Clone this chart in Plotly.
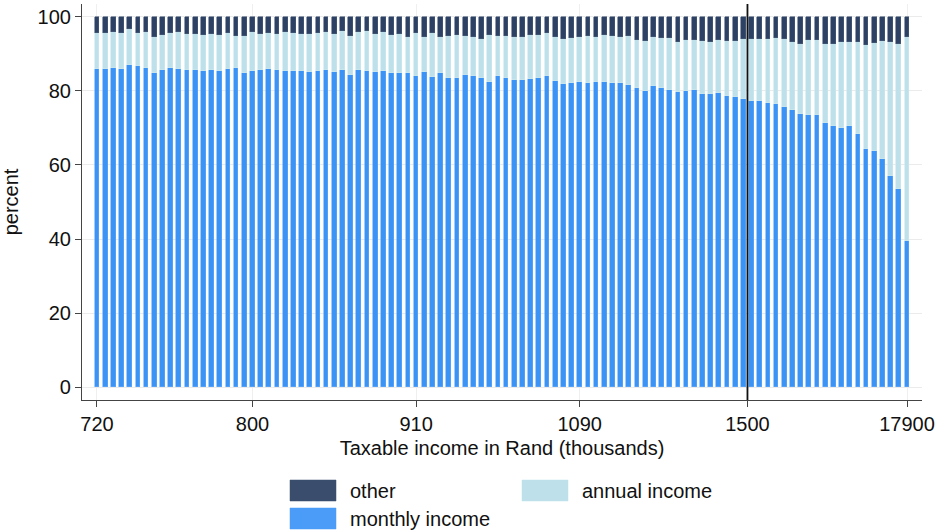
import plotly.graph_objects as go

positions = list(range(1, 101))

monthly = [
    86.0, 86.0, 86.2, 86.0, 87.0, 86.8, 86.1, 84.9, 85.6, 86.1,
    85.9, 85.6, 85.6, 85.3, 85.6, 85.5, 86.0, 86.1, 84.8, 85.4,
    85.6, 85.9, 85.8, 85.5, 85.4, 85.4, 85.2, 85.4, 85.6, 85.0,
    85.6, 84.4, 85.7, 85.3, 85.1, 85.3, 84.8, 84.8, 84.8, 84.1,
    85.0, 83.8, 84.9, 83.6, 83.6, 84.3, 84.1, 83.6, 82.5, 84.1,
    83.6, 83.0, 82.9, 83.2, 83.4, 84.1, 82.8, 82.0, 82.1, 82.4,
    82.1, 82.4, 82.3, 82.1, 82.2, 81.7, 80.9, 79.9, 81.4, 80.9,
    80.3, 79.6, 80.1, 80.3, 79.2, 79.2, 79.4, 78.6, 78.4, 77.9,
    77.3, 77.2, 76.8, 76.4, 75.6, 74.8, 73.7, 73.6, 73.4, 71.4,
    70.5, 70.0, 70.5, 68.4, 64.3, 63.7, 61.5, 57.0, 53.6, 39.4,
]

annual = [
    9.7, 9.8, 9.7, 9.7, 9.7, 8.8, 9.8, 9.8, 9.6, 9.7,
    10.1, 9.8, 9.8, 9.9, 9.7, 9.7, 9.8, 8.8, 10.0, 10.5,
    9.8, 9.9, 9.7, 10.4, 10.2, 10.1, 10.2, 10.3, 10.3, 10.3,
    10.6, 10.4, 10.3, 10.8, 10.3, 10.7, 10.4, 10.6, 9.9, 11.6,
    9.5, 11.9, 9.6, 11.2, 11.6, 10.5, 10.4, 10.4, 12.6, 10.8,
    11.3, 11.5, 11.8, 11.9, 11.8, 11.5, 11.7, 12.1, 12.2, 12.3,
    12.7, 12.1, 12.7, 12.8, 12.3, 13.1, 12.9, 13.7, 13.1, 13.4,
    13.9, 13.7, 13.6, 13.5, 14.4, 14.1, 14.3, 15.0, 15.2, 16.2,
    16.7, 16.8, 17.2, 17.8, 18.4, 18.4, 19.0, 20.2, 20.4, 21.4,
    22.2, 23.1, 22.7, 24.9, 28.2, 29.3, 32.1, 36.2, 39.2, 55.1,
]

other = [
    4.3, 4.2, 4.1, 4.3, 3.3, 4.4, 4.1, 5.3, 4.8, 4.2,
    4.0, 4.6, 4.6, 4.8, 4.7, 4.8, 4.2, 5.1, 5.2, 4.1,
    4.6, 4.2, 4.5, 4.1, 4.4, 4.5, 4.6, 4.3, 4.1, 4.7,
    3.8, 5.2, 4.0, 3.9, 4.6, 4.0, 4.8, 4.6, 5.3, 4.3,
    5.5, 4.3, 5.5, 5.2, 4.8, 5.2, 5.5, 6.0, 4.9, 5.1,
    5.1, 5.5, 5.3, 4.9, 4.8, 4.4, 5.5, 5.9, 5.7, 5.3,
    5.2, 5.5, 5.0, 5.1, 5.5, 5.2, 6.2, 6.4, 5.5, 5.7,
    5.8, 6.7, 6.3, 6.2, 6.4, 6.7, 6.3, 6.4, 6.4, 5.9,
    6.0, 6.0, 6.0, 5.8, 6.0, 6.8, 7.3, 6.2, 6.2, 7.2,
    7.3, 6.9, 6.8, 6.7, 7.5, 7.0, 6.4, 6.8, 7.2, 5.5,
]

tick_positions = [1, 20, 40, 60, 80.5, 100]
tick_labels = ["720", "800", "910", "1090", "1500", "17900"]
marker_position = 80.5

y_ticks = [0, 20, 40, 60, 80, 100]

C_MONTHLY = "#3b93f6"
C_ANNUAL = "#bde0ea"
C_OTHER = "#2c4163"

FONT = "Liberation Sans, Arial, sans-serif"
FS = 20

fig = go.Figure()
fig.add_trace(go.Bar(x=positions, y=monthly, name="monthly income", width=0.58,
                     marker=dict(color=C_MONTHLY, line=dict(color="#62aaf8", width=0.6))))
fig.add_trace(go.Bar(x=positions, y=annual, name="annual income", width=0.58,
                     marker=dict(color=C_ANNUAL, line=dict(color="#cbe7ef", width=0.6))))
fig.add_trace(go.Bar(x=positions, y=other, name="other", width=0.58,
                     marker=dict(color=C_OTHER, line=dict(color="#4a5d7b", width=0.6))))

fig.add_shape(type="line", xref="x", yref="y domain", x0=marker_position, x1=marker_position,
              y0=0, y1=1, line=dict(color="#111111", width=1.8), layer="above")

# manual legend
legend_items = [
    ("other", "#3a4d6c", 290, 480),
    ("annual income", C_ANNUAL, 522, 480),
    ("monthly income", "#4a9cf8", 290, 508),
]
W, H = 936, 531
pl, pr, pt, pb = 82, 14, 4, 131
pw, ph = W - pl - pr, H - pt - pb


def px_to_paper(x, y):
    return (x - pl) / pw, 1 - (y - pt) / ph


for label, col, x0, y0 in legend_items:
    ax0, ay0 = px_to_paper(x0, y0)
    ax1, ay1 = px_to_paper(x0 + 46, y0 + 21)
    fig.add_shape(type="rect", xref="paper", yref="paper", x0=ax0, x1=ax1, y0=ay1, y1=ay0,
                  fillcolor=col, line=dict(color=col, width=0.5))
    tx, ty = px_to_paper(x0 + 58, y0 + 10.5)
    fig.add_annotation(xref="paper", yref="paper", x=tx, y=ty, text=label, showarrow=False,
                       xanchor="left", yanchor="middle",
                       font=dict(family=FONT, size=FS, color="#111111"))

fig.update_layout(
    barmode="stack",
    width=W, height=H,
    margin=dict(l=pl, r=pr, t=pt, b=pb, autoexpand=False),
    paper_bgcolor="white",
    plot_bgcolor="white",
    showlegend=False,
    font=dict(family=FONT, size=FS, color="#111111"),
    bargap=0,
)
fig.update_xaxes(
    range=[-0.83, 101.83], automargin=False,
    tickmode="array", tickvals=tick_positions, ticktext=tick_labels,
    showgrid=True, gridcolor="#efefef", gridwidth=1,
    showline=True, linecolor="#444444", linewidth=1.2,
    ticks="outside", ticklen=6, tickcolor="#444444", tickwidth=1.2,
    zeroline=False,
    title=dict(text="Taxable income in Rand (thousands)", standoff=6,
               font=dict(family=FONT, size=FS)),
    tickfont=dict(family=FONT, size=FS),
)
fig.update_yaxes(
    range=[-3.5, 103.5], automargin=False,
    tickmode="array", tickvals=y_ticks,
    showgrid=True, gridcolor="#ebebeb", gridwidth=1,
    showline=True, linecolor="#444444", linewidth=1.2,
    ticks="outside", ticklen=6, tickcolor="#444444", tickwidth=1.2,
    zeroline=False,
    title=dict(text="percent", standoff=14, font=dict(family=FONT, size=FS)),
    tickfont=dict(family=FONT, size=FS),
)

fig.write_html("out.html", config={"displayModeBar": False},
               post_script="document.body.style.margin='0';document.body.style.overflow='hidden';")
